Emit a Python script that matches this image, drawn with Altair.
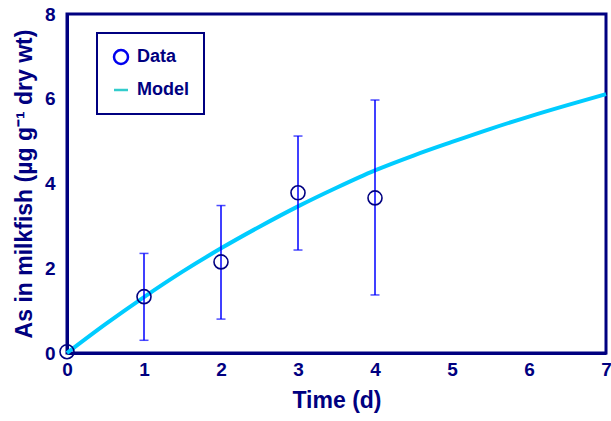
import altair as alt
import pandas as pd

# Observed data
days = [0, 1, 2, 3, 4]
as_mean = [0.03, 1.33, 2.15, 3.78, 3.66]
err_low = [None, 0.30, 0.80, 2.43, 1.37]
err_high = [None, 2.35, 3.48, 5.12, 5.97]

# Model curve
model_t = [0, 0.5, 1, 1.5, 2, 2.5, 3, 3.5, 4, 4.5, 5, 5.5, 6, 6.5, 7]
model_y = [0.0, 0.68, 1.32, 1.92, 2.47, 2.98, 3.46, 3.90, 4.31, 4.66, 4.98, 5.29, 5.58, 5.85, 6.11]

legend_names = ["Data", "Model"]

NAVY = "#000080"
FONT = "Liberation Sans"

data_df = pd.DataFrame({"t": days, "y": as_mean, "lo": err_low, "hi": err_high})
err_df = data_df.dropna()
model_df = pd.DataFrame({"t": model_t, "y": model_y})
leg_df = pd.DataFrame({"series": legend_names, "t": [0, 0], "y": [0, 0]})

xs = alt.Scale(domain=[0, 7], nice=False)
ys = alt.Scale(domain=[0, 8], nice=False)

x_axis = alt.Axis(title="Time (d)", values=list(range(8)), format="d")
y_axis = alt.Axis(title="As in milkfish (µg g⁻¹ dry wt)", values=[0, 2, 4, 6, 8], format="d")

curve = alt.Chart(model_df).mark_line(color="#00CCFF", strokeWidth=4, interpolate="monotone").encode(
    x=alt.X("t:Q", scale=xs, axis=x_axis),
    y=alt.Y("y:Q", scale=ys, axis=y_axis),
)

rules = alt.Chart(err_df).mark_rule(color="#0000FF", strokeWidth=1.5).encode(
    x="t:Q", y="lo:Q", y2="hi:Q"
)
cap_lo = alt.Chart(err_df).mark_tick(color="#0000FF", orient="horizontal", size=9, thickness=1.5).encode(
    x="t:Q", y="lo:Q"
)
cap_hi = alt.Chart(err_df).mark_tick(color="#0000FF", orient="horizontal", size=9, thickness=1.5).encode(
    x="t:Q", y="hi:Q"
)
points = alt.Chart(data_df).mark_point(shape="circle", filled=False, color=NAVY, size=196, strokeWidth=1.6, opacity=1).encode(
    x="t:Q", y="y:Q"
)

legend_layer = alt.Chart(leg_df).mark_point(opacity=0, filled=False).encode(
    x="t:Q",
    y="y:Q",
    color=alt.Color(
        "series:N",
        scale=alt.Scale(domain=legend_names, range=["#0000EE", "#33CCCC"]),
        legend=alt.Legend(
            title=None,
            orient="none",
            legendX=30,
            legendY=19,
            padding=15,
            rowPadding=12,
            symbolSize=196,
            symbolStrokeWidth=2.5,
            symbolOpacity=1,
            symbolFillColor="transparent",
            labelFont=FONT,
            labelFontSize=18,
            labelFontWeight="bold",
            labelColor=NAVY,
            labelOffset=7,
        ),
    ),
    shape=alt.Shape(
        "series:N",
        scale=alt.Scale(domain=legend_names, range=["circle", "stroke"]),
        legend=None,
    ),
)

chart = (
    alt.layer(curve, rules, cap_lo, cap_hi, points, legend_layer)
    .properties(
        width=539,
        height=339,
        autosize=alt.AutoSizeParams(type="none"),
        padding={"left": 67, "top": 14, "right": 5, "bottom": 68},
    )
    .configure_view(stroke=NAVY, strokeWidth=3)
    .configure_legend(strokeColor=NAVY, strokeWidth=2)
    .configure_axis(
        domainColor=NAVY,
        domainWidth=3,
        ticks=False,
        grid=False,
        labelFlush=False,
        labelFont=FONT,
        labelFontSize=19,
        labelFontWeight="bold",
        labelColor=NAVY,
        titleFont=FONT,
        titleFontSize=23,
        titleFontWeight="bold",
        titleColor=NAVY,
    )
    .configure_axisX(labelPadding=7, titlePadding=10)
    .configure_axisY(labelPadding=12, titlePadding=8)
)

chart.save("out.html", embed_options={"renderer": "svg", "actions": False})
